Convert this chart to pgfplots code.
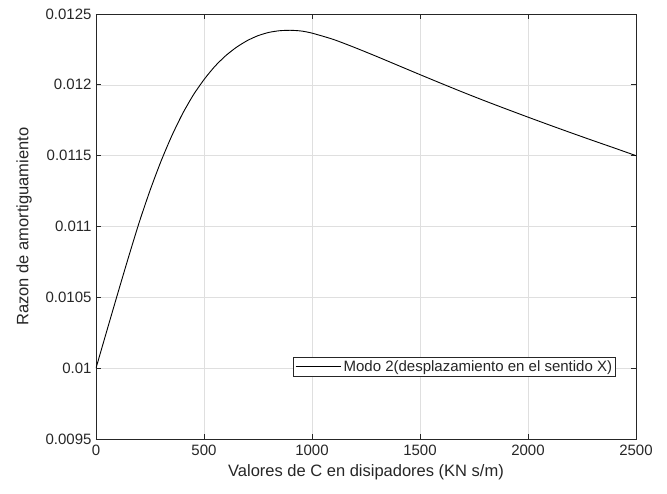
\documentclass[border=0pt]{standalone}
\usepackage{pgfplots}
\pgfplotsset{compat=1.18}
\usepackage{fontspec}
\setmainfont{Liberation Sans}
\definecolor{axgray}{RGB}{38,38,38}
\definecolor{gridgray}{RGB}{223,223,223}
\begin{document}
\begin{tikzpicture}
\begin{axis}[
  width=540pt, height=425pt, scale only axis,
  xmin=0, xmax=2500, ymin=0.0095, ymax=0.0125,
  xtick={0,500,1000,1500,2000,2500},
  ytick={0.0095,0.01,0.0105,0.011,0.0115,0.012,0.0125},
  yticklabels={0.0095,0.01,0.0105,0.011,0.0115,0.012,0.0125},
  scaled y ticks=false, scaled x ticks=false,
  /pgf/number format/assume math mode=true,
  /pgf/number format/1000 sep={},
  grid=major,
  major grid style={gridgray, line width=0.6pt},
  axis line style={axgray, line width=0.8pt},
  tick style={axgray, line width=0.8pt},
  tick align=inside, major tick length=5pt,
  ticklabel style={font=\fontsize{15}{18}\selectfont, text=axgray},
  yticklabel style={xshift=-1pt},
  xticklabel style={yshift=-2pt},
  xlabel={Valores de C en disipadores (KN s/m)},
  ylabel={Razon de amortiguamiento},
  label style={font=\fontsize{16.5}{19}\selectfont, text=axgray},
  xlabel style={at={(axis description cs:0.5,-0.078)}, anchor=center},
  ylabel style={at={(axis description cs:-0.133,0.5)}, anchor=center},
  legend style={at={(0.963,0.1466)}, anchor=south east,
    font=\fontsize{15}{17}\selectfont, text=axgray, draw=axgray,
    line width=0.8pt, inner sep=1.5pt},
  legend cell align=left,
  legend image code/.code={\draw[black, line width=0.9pt] (0cm,0cm) -- (1.6cm,0cm);},
]
\addplot[black, line width=0.9pt, smooth, tension=0.4] coordinates {
(0,0.010000) (50,0.010263) (100,0.010524) (150,0.010781) (200,0.011029)
(250,0.011254) (300,0.011457) (350,0.011637) (400,0.011794) (450,0.011927)
(500,0.012037) (550,0.012130) (600,0.012205) (650,0.012265) (700,0.012312)
(750,0.012347) (800,0.012370) (850,0.012382) (900,0.012385) (950,0.012380)
(1000,0.012365) (1100,0.012320) (1200,0.012262) (1300,0.012200) (1400,0.012136)
(1500,0.012072) (1600,0.012009) (1700,0.011947) (1800,0.011887) (1900,0.011829)
(2000,0.011772) (2100,0.011716) (2200,0.011661) (2300,0.011607) (2400,0.011554)
(2500,0.011500)
};
\addlegendentry{Modo 2(desplazamiento en el sentido X)}
\end{axis}
\pgfresetboundingbox
\path ([shift={(-96pt,-54pt)}]current axis.south west) rectangle ([shift={(31pt,14pt)}]current axis.north east);
\end{tikzpicture}
\end{document}
